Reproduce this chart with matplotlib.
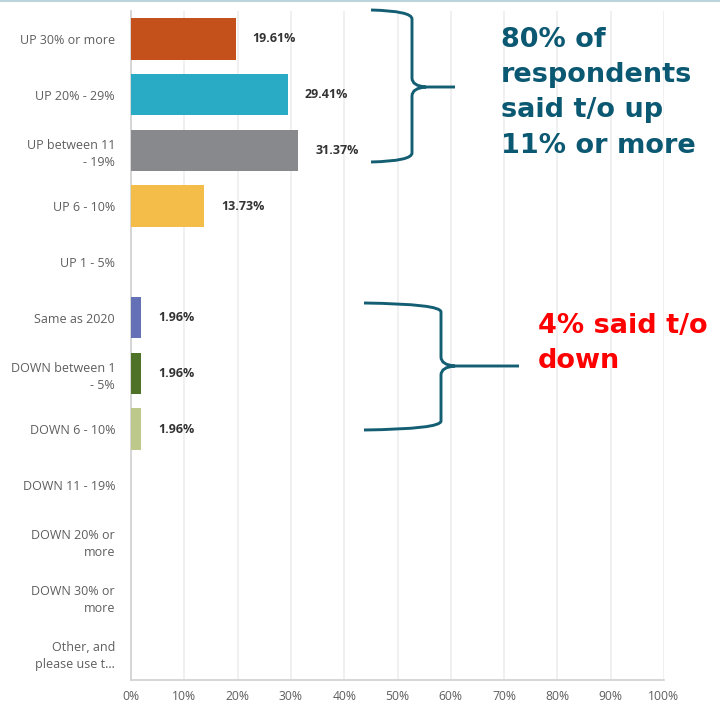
import numpy as np
import matplotlib
matplotlib.use("Agg")
import matplotlib.pyplot as plt
from matplotlib.path import Path
from matplotlib.patches import PathPatch
from matplotlib.lines import Line2D

# survey answers, top to bottom
categories = ["UP 30% or more", "UP 20% - 29%", "UP between 11\n- 19%", "UP 6 - 10%",
              "UP 1 - 5%", "Same as 2020", "DOWN between 1\n- 5%", "DOWN 6 - 10%",
              "DOWN 11 - 19%", "DOWN 20% or\nmore", "DOWN 30% or\nmore",
              "Other, and\nplease use t..."]
values = [19.61, 29.41, 31.37, 13.73, 0.0, 1.96, 1.96, 1.96, 0.0, 0.0, 0.0, 0.0]
colors = ["#C4511B", "#2AABC5", "#88898C", "#F4BD4A", "#7FB6D5", "#6471B6",
          "#4F7229", "#BCC98A", "#999999", "#999999", "#999999", "#999999"]
xticks = np.arange(0, 101, 10)

plt.rcParams['font.family'] = ['Open Sans', 'DejaVu Sans']

fig = plt.figure(figsize=(7.2, 7.03), dpi=100)
ax = fig.add_axes([131/720, 1-680/703, 533/720, 669/703])

y = np.arange(len(categories))
ax.barh(y, values, height=0.74, color=colors, linewidth=0, zorder=3)
for yi, v in zip(y, values):
    if v > 0:
        ax.text(v + 3.2, yi, "%.2f%%" % v, va="center", ha="left", fontsize=9,
                fontweight="bold", color="#333333", zorder=4)

ax.set_ylim(len(categories) - 0.5, -0.5)
ax.set_xlim(0, 100)
ax.set_yticks(y)
ax.set_yticklabels(categories, fontsize=9, color="#5E5E5E", ha="right",
                   linespacing=1.4)
ax.set_xticks(xticks)
ax.set_xticklabels(["%d%%" % t for t in xticks], fontsize=8.7, color="#5E5E5E")
ax.tick_params(axis="y", length=0, pad=11.5)
ax.tick_params(axis="x", length=0, pad=7)
ax.grid(axis="x", color="#EDEDED", linewidth=1.2, zorder=0)
for s in ["top", "right"]:
    ax.spines[s].set_visible(False)
ax.spines["left"].set_color("#D0D0D0")
ax.spines["bottom"].set_color("#D0D0D0")
ax.spines["left"].set_linewidth(1.2)
ax.spines["bottom"].set_linewidth(1.2)

def px(x, yy):
    # figure pixel -> data coords of the bar axes
    inv = ax.transData.inverted()
    return inv.transform((x, 703 - yy))

def brace(x0, xv, xt, ytop, ymid, ybot):
    # curly brace opening to the left, tip pointing right
    c = 9
    verts = [(x0, ytop), (xv, ytop + 1), (xv, ytop + c),
             (xv, ymid - c), (xv, ymid - 1), (xv + 14, ymid),
             (xt, ymid),
             (xv + 14, ymid), (xv, ymid + 1), (xv, ymid + c),
             (xv, ybot - c), (xv, ybot - 1), (x0, ybot)]
    codes = [Path.MOVETO, Path.CURVE3, Path.CURVE3,
             Path.LINETO, Path.CURVE3, Path.CURVE3,
             Path.LINETO,
             Path.MOVETO, Path.CURVE3, Path.CURVE3,
             Path.LINETO, Path.CURVE3, Path.CURVE3]
    verts = [px(a, b) for a, b in verts]
    p = PathPatch(Path(verts, codes), facecolor="none", edgecolor="#135E73",
                  linewidth=2.1, clip_on=False, zorder=5, capstyle="butt")
    ax.add_patch(p)

brace(371, 412, 455, 10, 87, 162)
brace(364, 441, 519, 303, 366, 430)

ax.text(*px(501, 27), "80% of\nrespondents\nsaid t/o up\n11% or more",
        fontsize=19.5, fontweight="bold", color="#0B5872", family="DejaVu Sans",
        ha="left", va="top", linespacing=1.46, clip_on=False)
ax.text(*px(538, 313), "4% said t/o\ndown", fontsize=19.5, fontweight="bold",
        color="#FF0000", family="DejaVu Sans", ha="left", va="top",
        linespacing=1.46, clip_on=False)

# thin border line along the top edge
fig.add_artist(Line2D([0, 1], [1 - 0.7/703, 1 - 0.7/703], color="#BCD5DD",
                      linewidth=1.5, transform=fig.transFigure))

fig.savefig("out.png", dpi=100)
